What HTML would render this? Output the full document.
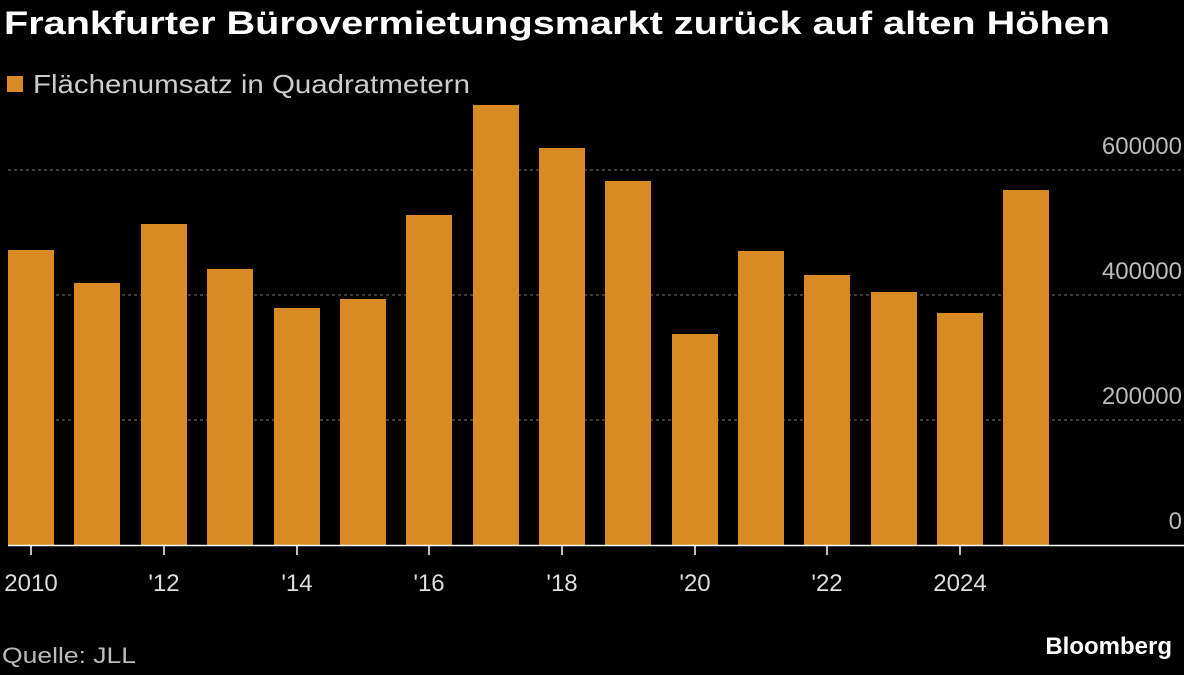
<!DOCTYPE html>
<html><head><meta charset="utf-8"><style>
html,body{margin:0;padding:0;background:#000;}
body{width:1184px;height:670px;overflow:hidden;font-family:"Liberation Sans",sans-serif;}
</style></head><body>
<svg width="1184" height="670" xmlns="http://www.w3.org/2000/svg" font-family="Liberation Sans, sans-serif">
<rect width="1184" height="670" fill="#000"/>
<text x="4" y="34" font-size="32" font-weight="bold" fill="#fff" textLength="1106" lengthAdjust="spacingAndGlyphs">Frankfurter Bürovermietungsmarkt zurück auf alten Höhen</text>
<rect x="7" y="76" width="16" height="16" fill="#d98a25"/>
<text x="33" y="93" font-size="26" fill="#ccc" textLength="437" lengthAdjust="spacingAndGlyphs">Flächenumsatz in Quadratmetern</text>
<g stroke="#777" stroke-width="1" stroke-dasharray="3,3">
<line x1="8" y1="170" x2="1184" y2="170"/>
<line x1="8" y1="295" x2="1184" y2="295"/>
<line x1="8" y1="420" x2="1184" y2="420"/>
</g>
<g font-size="24" fill="#bbb" text-anchor="end">
<text x="1182" y="154">600000</text>
<text x="1182" y="279">400000</text>
<text x="1182" y="404">200000</text>
<text x="1182" y="529">0</text>
</g>
<g fill="#d98a25">
<rect x="8" y="250" width="46" height="295"/>
<rect x="74" y="283" width="46" height="262"/>
<rect x="141" y="224" width="46" height="321"/>
<rect x="207" y="269" width="46" height="276"/>
<rect x="274" y="308" width="46" height="237"/>
<rect x="340" y="299" width="46" height="246"/>
<rect x="406" y="215" width="46" height="330"/>
<rect x="473" y="105" width="46" height="440"/>
<rect x="539" y="148" width="46" height="397"/>
<rect x="605" y="181" width="46" height="364"/>
<rect x="672" y="334" width="46" height="211"/>
<rect x="738" y="251" width="46" height="294"/>
<rect x="804" y="275" width="46" height="270"/>
<rect x="871" y="292" width="46" height="253"/>
<rect x="937" y="313" width="46" height="232"/>
<rect x="1003" y="190" width="46" height="355"/>
</g>
<line x1="8" y1="545.5" x2="1184" y2="545.5" stroke="#fff" stroke-width="1.5"/>
<g stroke="#fff" stroke-width="1.5">
<line x1="31" y1="545" x2="31" y2="555"/>
<line x1="164" y1="545" x2="164" y2="555"/>
<line x1="297" y1="545" x2="297" y2="555"/>
<line x1="429" y1="545" x2="429" y2="555"/>
<line x1="562" y1="545" x2="562" y2="555"/>
<line x1="695" y1="545" x2="695" y2="555"/>
<line x1="827" y1="545" x2="827" y2="555"/>
<line x1="960" y1="545" x2="960" y2="555"/>
</g>
<g font-size="24" fill="#ddd" text-anchor="middle">
<text x="31" y="591">2010</text>
<text x="164" y="591">'12</text>
<text x="297" y="591">'14</text>
<text x="429" y="591">'16</text>
<text x="562" y="591">'18</text>
<text x="695" y="591">'20</text>
<text x="827" y="591">'22</text>
<text x="960" y="591">2024</text>
</g>
<text x="2" y="663" font-size="22" fill="#bbb" textLength="134" lengthAdjust="spacingAndGlyphs">Quelle: JLL</text>
<text x="1172" y="654" font-size="24" font-weight="bold" fill="#fff" text-anchor="end">Bloomberg</text>
</svg>
</body></html>
